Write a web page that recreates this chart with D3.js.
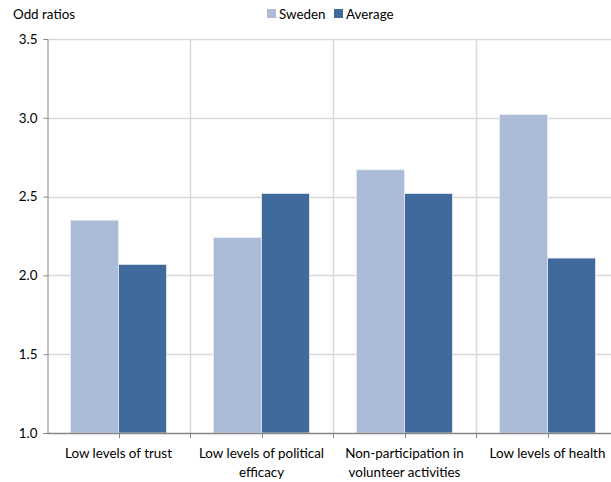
<!DOCTYPE html>
<html>
<head>
<meta charset="utf-8">
<script src="https://cdn.jsdelivr.net/npm/d3@7"></script>
<style>
  body { margin: 0; background: #fff; }
  svg { display: block; font-family: Lato, "Open Sans", sans-serif; }
</style>
</head>
<body>
<svg id="chart" width="611" height="482"></svg>
<script>
const categories = [
  ["Low levels of trust"],
  ["Low levels of political", "efficacy"],
  ["Non-participation in", "volunteer activities"],
  ["Low levels of health"]
];
const seriesNames = ["Sweden", "Average"];
const sweden = [2.35, 2.24, 2.67, 3.02];
const average = [2.07, 2.52, 2.52, 2.11];
const yTicks = [1.0, 1.5, 2.0, 2.5, 3.0, 3.5];
const colors = ["#abbbd8", "#3f6a9b"];

(function () {
const FS = 13.4;
const svg = d3.select("#chart");
const mLeft = 47, mTop = 39, mBottom = 433, catStep = 143;
const catKeys = categories.map((c, i) => i);

const x = d3.scaleBand().domain(catKeys).range([mLeft, mLeft + catStep * categories.length]).padding(0);
const xs = d3.scaleBand().domain(seriesNames).range([0, x.bandwidth()]).paddingInner(0).paddingOuter(0.49);
const y = d3.scaleLinear().domain([1.0, 3.5]).range([mBottom, mTop]);

const values = [sweden, average];

// horizontal gridlines
svg.append("g").selectAll("line").data(yTicks.slice(1)).join("line")
  .attr("x1", mLeft).attr("x2", 611)
  .attr("y1", d => Math.round(y(d)) + 0.5).attr("y2", d => Math.round(y(d)) + 0.5)
  .attr("stroke", "#d9d9d9").attr("stroke-width", 1.5);

// vertical gridlines at category boundaries
svg.append("g").selectAll("line").data(catKeys.slice(1)).join("line")
  .attr("x1", d => Math.round(x(d)) + 0.5).attr("x2", d => Math.round(x(d)) + 0.5)
  .attr("y1", mTop).attr("y2", mBottom)
  .attr("stroke", "#d9d9d9").attr("stroke-width", 1.5);

// bars
const groups = svg.append("g").selectAll("g").data(catKeys).join("g")
  .attr("transform", d => `translate(${x(d)},0)`);
groups.selectAll("rect").data(i => seriesNames.map((s, j) => ({ s, v: values[j][i], j })))
  .join("rect")
  .attr("x", d => xs(d.s))
  .attr("width", xs.bandwidth())
  .attr("y", d => y(d.v))
  .attr("height", d => y(1.0) - y(d.v))
  .attr("fill", d => colors[d.j])
  .attr("stroke", "#e6ebf3").attr("stroke-width", 0.8);

// y axis
const yAxis = d3.axisLeft(y).tickValues(yTicks).tickFormat(d3.format(".1f")).tickSize(4).tickPadding(6);
const gy = svg.append("g").attr("transform", `translate(${mLeft + 0.5},0)`).call(yAxis);
gy.select(".domain").attr("stroke", "#868686");
gy.selectAll(".tick line").attr("stroke", "#868686");
gy.selectAll(".tick text").attr("font-size", FS).attr("fill", "#000").attr("font-family", "Lato, sans-serif");

// x axis line
svg.append("line").attr("x1", mLeft).attr("x2", 611)
  .attr("y1", mBottom + 0.5).attr("y2", mBottom + 0.5)
  .attr("stroke", "#868686").attr("stroke-width", 1.5);

// x ticks at boundaries and centers
const xTickPos = [];
catKeys.forEach(k => { xTickPos.push(x(k)); xTickPos.push(x(k) + x.bandwidth() / 2); });
xTickPos.push(x(catKeys[catKeys.length - 1]) + x.bandwidth());
svg.append("g").selectAll("line").data(xTickPos.slice(1)).join("line")
  .attr("x1", d => Math.round(d) + 0.5).attr("x2", d => Math.round(d) + 0.5)
  .attr("y1", mBottom).attr("y2", mBottom + 5)
  .attr("stroke", "#868686");

// category labels
const lbl = svg.append("g").selectAll("text").data(catKeys).join("text")
  .attr("x", d => x(d) + x.bandwidth() / 2)
  .attr("y", 458)
  .attr("text-anchor", "middle")
  .attr("font-size", FS)
  .attr("fill", "#000");
lbl.selectAll("tspan").data(d => categories[d]).join("tspan")
  .attr("x", function () { return this.parentNode.getAttribute("x"); })
  .attr("dy", (d, i) => i === 0 ? 0 : 19)
  .text(d => d);

// y title
svg.append("text").attr("x", 13).attr("y", 19).attr("font-size", FS).attr("fill", "#000").text("Odd ratios");

// legend
const legendX = [267, 334];
const lg = svg.append("g").selectAll("g").data(seriesNames).join("g")
  .attr("transform", (d, i) => `translate(${legendX[i]},0)`);
lg.append("rect").attr("x", 0).attr("y", 9).attr("width", 9).attr("height", 9)
  .attr("fill", (d, i) => colors[i]);
lg.append("text").attr("x", 12).attr("y", 19).attr("font-size", FS).attr("fill", "#000").text(d => d);
})();
</script>
</body>
</html>
